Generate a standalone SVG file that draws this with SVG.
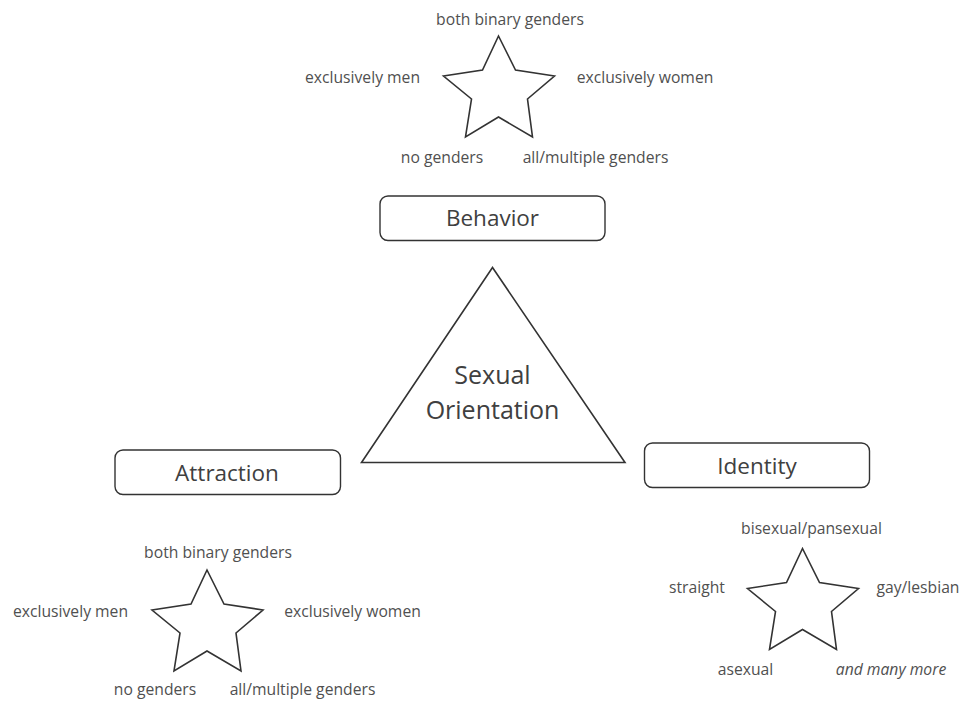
<svg xmlns="http://www.w3.org/2000/svg" xmlns:xlink="http://www.w3.org/1999/xlink" width="971" height="701" viewBox="0 0 971 701">
<style>
.bg{fill:#ffffff}
.shape{fill:#ffffff;stroke:#333333;stroke-width:1.6;stroke-linejoin:miter}
.box{fill:#ffffff;stroke:#333333;stroke-width:1.4}
.lbl{font-family:"Open Sans","Liberation Sans",sans-serif;font-size:15.7px;fill:#505050;text-anchor:middle}
.ttl{font-family:"Open Sans","Liberation Sans",sans-serif;font-size:22.5px;fill:#404040;text-anchor:middle}
.big{font-family:"Open Sans","Liberation Sans",sans-serif;font-size:25px;fill:#404040;text-anchor:middle}
.it{font-style:italic}
</style>
<defs>
<path id="star" d="M0,0 L17,34 L56,40 L29,63 L34,101 L0,81 L-33,101 L-27,63 L-55,40 L-16,34 Z"/>
</defs>
<rect class="bg" x="0" y="0" width="971" height="701"/>
<g id="connectors"/>
<g id="orientation">
<polygon class="shape" points="492.5,267.5 361.5,462.5 625,462.5"/>
<text class="big" x="492.5" y="384">Sexual</text>
<text class="big" x="492.5" y="419">Orientation</text>
</g>
<g id="behavior">
<rect class="box" x="380" y="196" width="225" height="44.5" rx="8"/>
<text class="ttl" x="492.5" y="226">Behavior</text>
</g>
<g id="attraction">
<rect class="box" x="115" y="450" width="225.5" height="44.5" rx="8"/>
<text class="ttl" x="227" y="481">Attraction</text>
</g>
<g id="identity">
<rect class="box" x="644.5" y="443" width="225" height="44.5" rx="8"/>
<text class="ttl" x="757" y="473.5">Identity</text>
</g>
<g id="behavior-star">
<use xlink:href="#star" href="#star" class="shape" transform="translate(498.5,36)"/>
<text class="lbl" x="510" y="25">both binary genders</text>
<text class="lbl" x="362.5" y="83">exclusively men</text>
<text class="lbl" x="645" y="83">exclusively women</text>
<text class="lbl" x="442" y="163">no genders</text>
<text class="lbl" x="595.5" y="163">all/multiple genders</text>
</g>
<g id="attraction-star">
<use xlink:href="#star" href="#star" class="shape" transform="translate(207,570)"/>
<text class="lbl" x="218" y="558">both binary genders</text>
<text class="lbl" x="70.5" y="617">exclusively men</text>
<text class="lbl" x="352.5" y="617">exclusively women</text>
<text class="lbl" x="155" y="695">no genders</text>
<text class="lbl" x="302.5" y="695">all/multiple genders</text>
</g>
<g id="identity-star">
<use xlink:href="#star" href="#star" class="shape" transform="translate(802.5,548.5)"/>
<text class="lbl" x="811.5" y="534">bisexual/pansexual</text>
<text class="lbl" x="697" y="593">straight</text>
<text class="lbl" x="918" y="593">gay/lesbian</text>
<text class="lbl" x="745.5" y="675">asexual</text>
<text class="lbl it" x="891" y="675">and many more</text>
</g>
</svg>
